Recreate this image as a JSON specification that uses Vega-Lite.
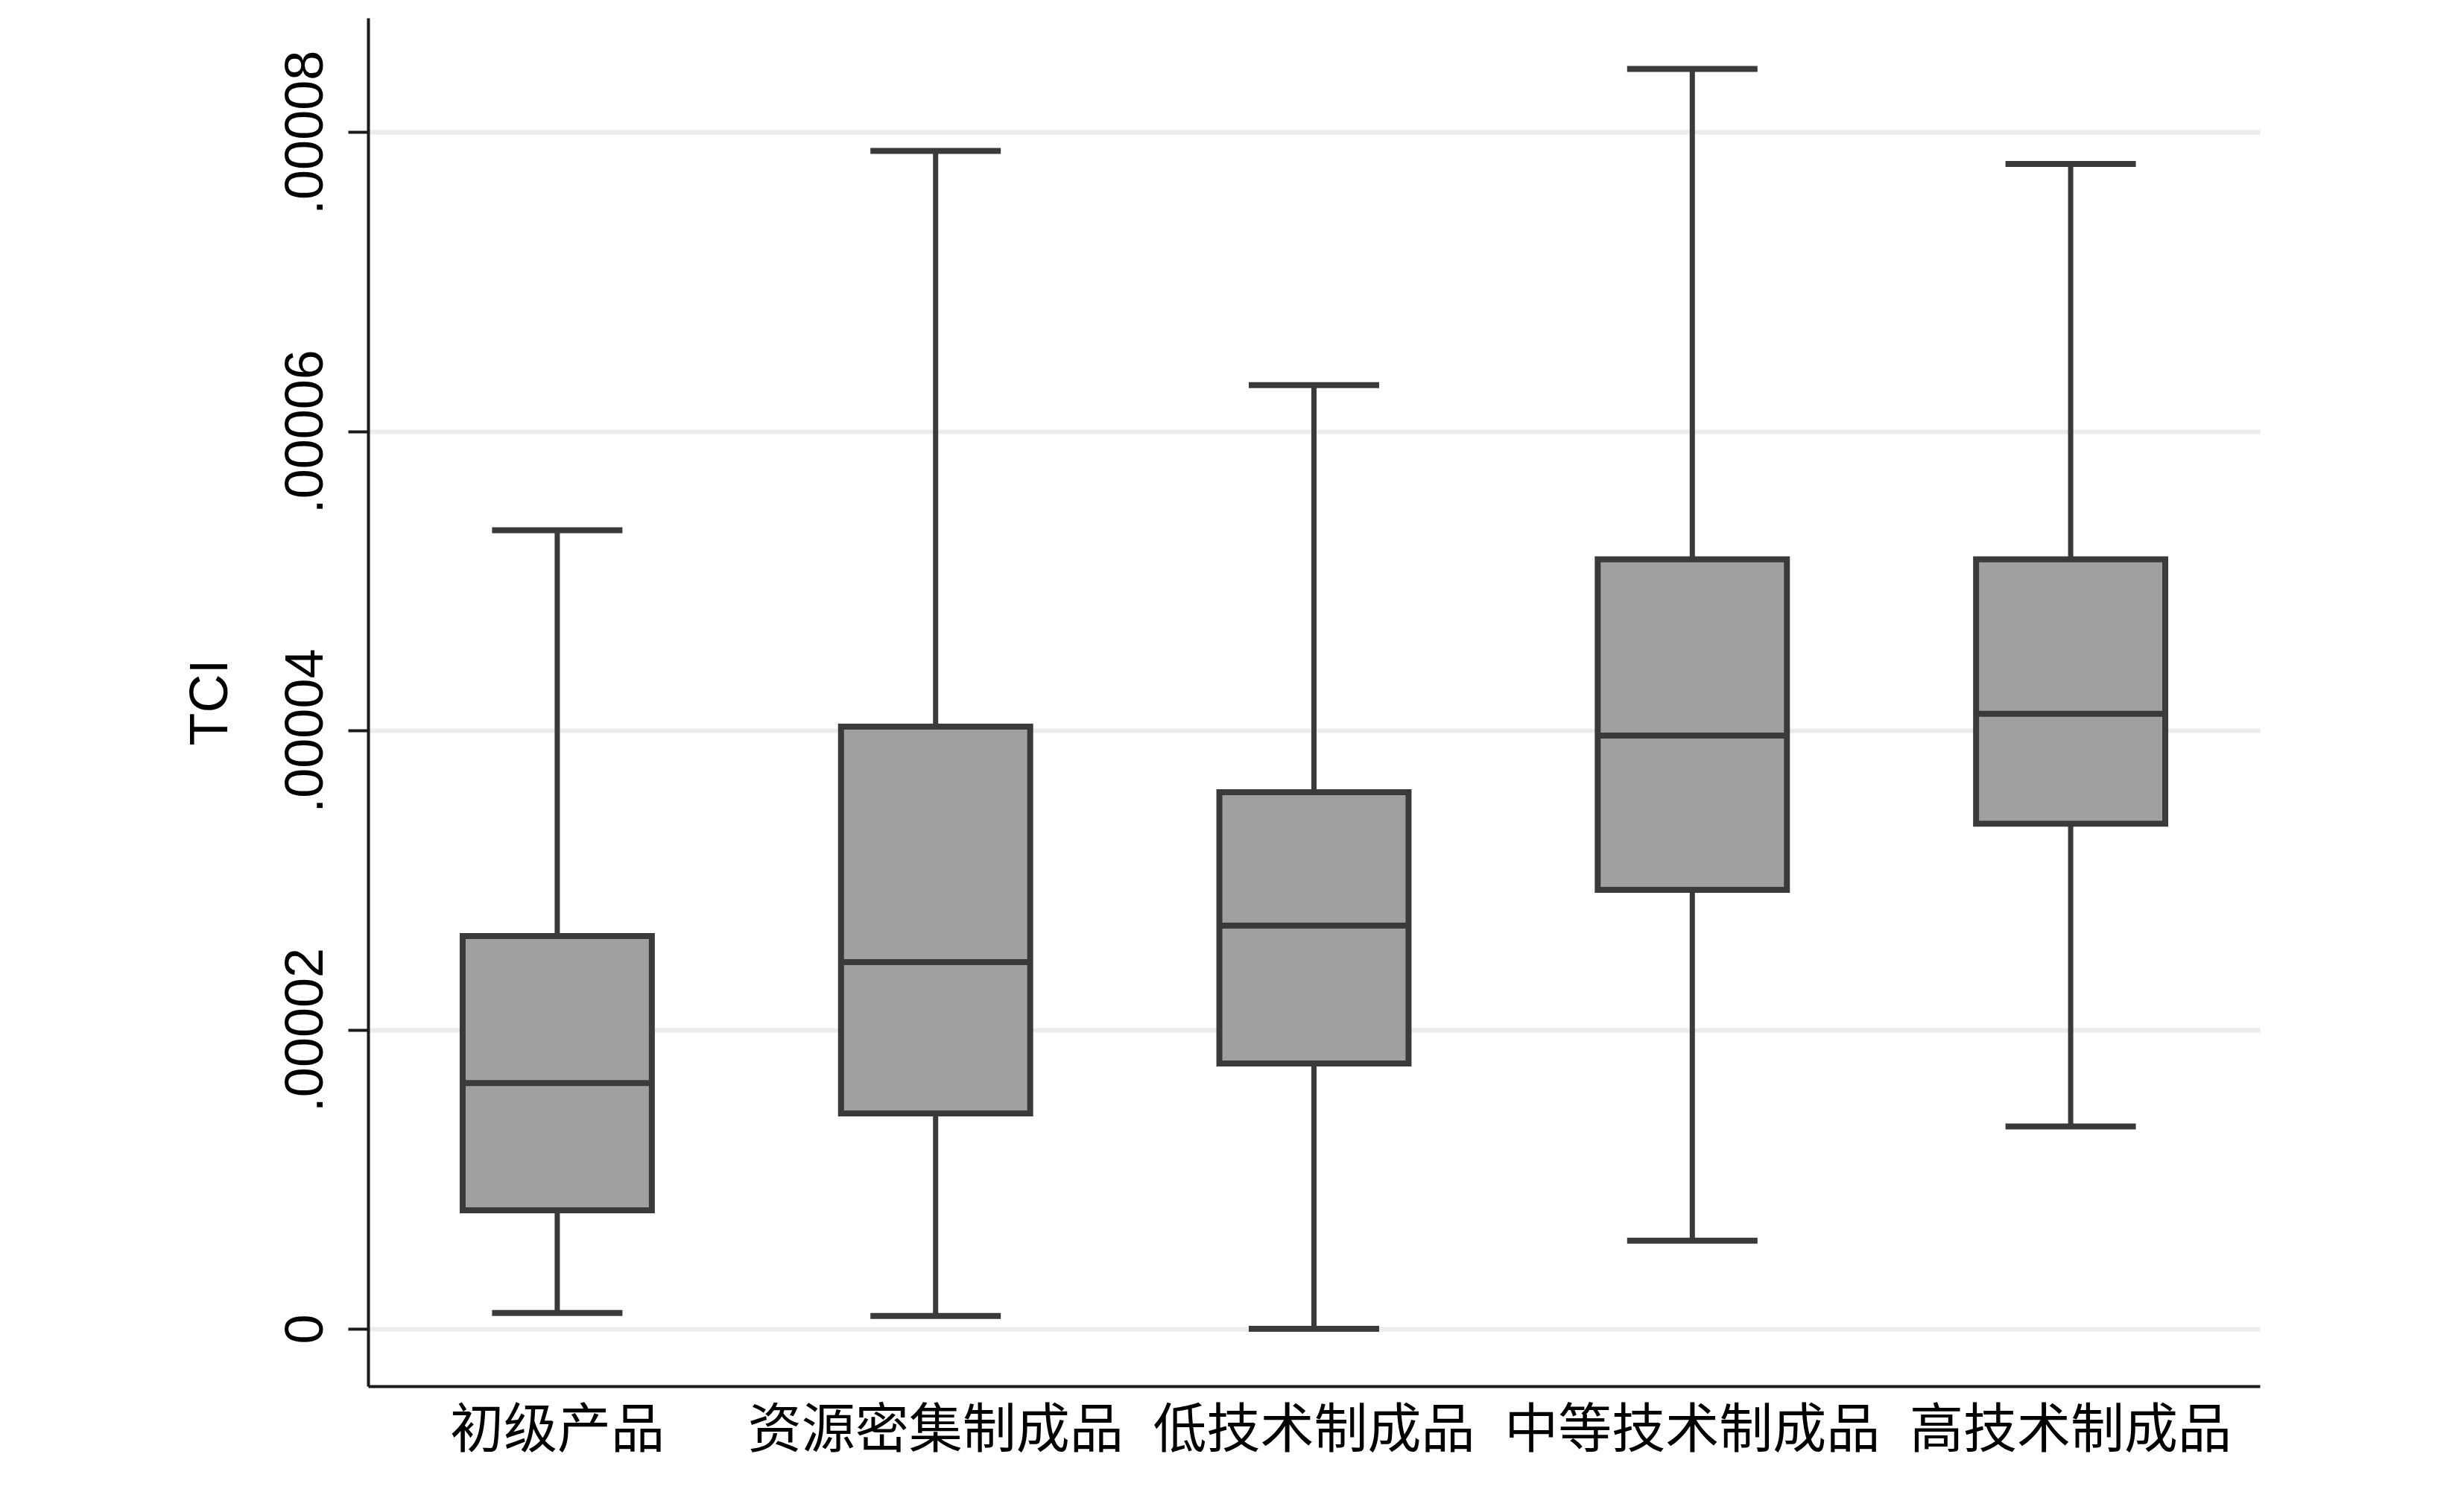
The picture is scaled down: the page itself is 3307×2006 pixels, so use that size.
{
  "$schema": "https://vega.github.io/schema/vega-lite/v6.json",
  "width": 2539,
  "height": 1836,
  "autosize": {"type": "none"},
  "padding": {"left": 494, "top": 24, "right": 274, "bottom": 146},
  "background": "white",
  "config": {"view": {"stroke": null}},
  "data": {
    "values": [
      {"cat": "初级产品", "lo": 0.00000106, "q1": 0.00000792, "med": 0.00001643, "q3": 0.00002626, "hi": 0.00005338},
      {"cat": "资源密集制成品", "lo": 0.00000085, "q1": 0.00001440, "med": 0.00002451, "q3": 0.00004026, "hi": 0.00007875},
      {"cat": "低技术制成品", "lo": 0.0, "q1": 0.00001774, "med": 0.00002695, "q3": 0.00003587, "hi": 0.00006309},
      {"cat": "中等技术制成品", "lo": 0.00000589, "q1": 0.00002935, "med": 0.00003966, "q3": 0.00005144, "hi": 0.00008423},
      {"cat": "高技术制成品", "lo": 0.00001352, "q1": 0.00003376, "med": 0.00004111, "q3": 0.00005144, "hi": 0.00007788}
    ]
  },
  "encoding": {
    "x": {
      "field": "cat",
      "type": "nominal",
      "sort": null,
      "scale": {"type": "band", "paddingInner": 0, "paddingOuter": 0},
      "axis": {
        "title": null,
        "labelAngle": 0,
        "ticks": false,
        "grid": false,
        "domainColor": "#1a1a1a",
        "domainWidth": 4,
        "labelFont": "Noto Sans CJK SC",
        "labelFontSize": 72,
        "labelColor": "#000000",
        "labelBaseline": "top",
        "labelPadding": 24,
        "labelLimit": 2000,
        "labelOverlap": false
      }
    }
  },
  "layer": [
    {
      "mark": {"type": "rule", "color": "#3a3a3a", "strokeWidth": 7},
      "encoding": {
        "y": {
          "field": "lo",
          "type": "quantitative",
          "scale": {"domain": [-0.00000384, 0.00008764], "nice": false, "zero": false},
          "axis": {
            "title": "TCI",
            "values": [0, 0.00002, 0.00004, 0.00006, 0.00008],
            "labelExpr": "datum.value == 0 ? '0' : substring(format(datum.value, '.5f'), 1)",
            "grid": true,
            "gridColor": "#ebebeb",
            "gridWidth": 6,
            "domainColor": "#1a1a1a",
            "domainWidth": 4,
            "tickColor": "#1a1a1a",
            "tickWidth": 4,
            "tickSize": 27,
            "labelAngle": 270,
            "labelAlign": "center",
            "labelBaseline": "alphabetic",
            "labelPadding": 35,
            "labelLimit": 2000,
            "labelOverlap": false,
            "labelFont": "Liberation Sans",
            "labelFontSize": 72,
            "labelColor": "#000000",
            "titleFont": "Liberation Sans",
            "titleFontSize": 72,
            "titleFontWeight": "normal",
            "titleColor": "#000000",
            "titleAngle": 270,
            "titlePadding": 55
          }
        },
        "y2": {"field": "hi"}
      }
    },
    {
      "mark": {"type": "tick", "color": "#3a3a3a", "size": 175, "thickness": 8, "opacity": 1},
      "encoding": {"y": {"field": "lo", "type": "quantitative"}}
    },
    {
      "mark": {"type": "tick", "color": "#3a3a3a", "size": 175, "thickness": 8, "opacity": 1},
      "encoding": {"y": {"field": "hi", "type": "quantitative"}}
    },
    {
      "mark": {"type": "bar", "fill": "#a0a0a0", "stroke": "#3a3a3a", "strokeWidth": 8, "width": {"band": 0.5}},
      "encoding": {
        "y": {"field": "q1", "type": "quantitative"},
        "y2": {"field": "q3"}
      }
    },
    {
      "mark": {"type": "tick", "color": "#3a3a3a", "size": 254, "thickness": 8, "opacity": 1},
      "encoding": {"y": {"field": "med", "type": "quantitative"}}
    }
  ]
}
